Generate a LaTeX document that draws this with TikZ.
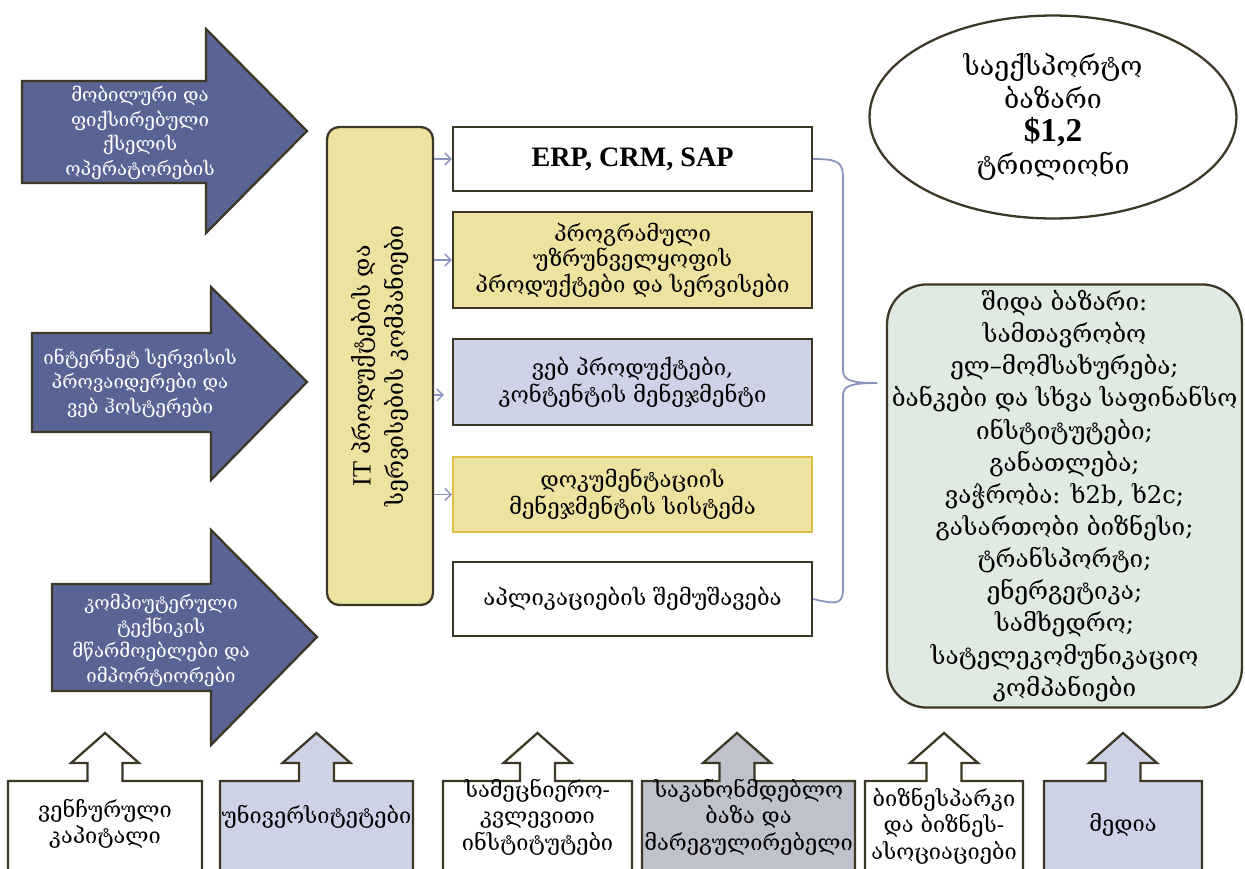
\documentclass[tikz,border=0pt]{standalone}
\usepackage{fontspec}
\setmainfont{DejaVu Serif}
\newfontfamily\latinserif{Liberation Serif}
\usetikzlibrary{arrows.meta,positioning,calc,shapes.geometric}

\definecolor{supplierblue}{HTML}{5A6494}
\definecolor{edgebrown}{HTML}{3D3826}
\definecolor{ityellow}{HTML}{EDE3A1}
\definecolor{docgold}{HTML}{D9C043}
\definecolor{weblilac}{HTML}{CED2E6}
\definecolor{lawgray}{HTML}{BFC1CC}
\definecolor{marketgreen}{HTML}{DFEAE2}
\definecolor{linkblue}{HTML}{8A92BE}

\begin{document}
\begin{tikzpicture}[x=0.02cm, y=-0.02cm,
  supplier/.style={fill=supplierblue, draw=edgebrown, line width=1.3pt},
  suppliertext/.style={text=white, align=center, font=\fontsize{10.6}{13.9}\selectfont},
  prodbox/.style={draw=edgebrown, line width=1.3pt, minimum width=7.18cm, align=center,
    inner sep=0pt, font=\fontsize{12.6}{15.5}\selectfont},
  source/.style={draw=edgebrown, line width=1.3pt},
  sourcetext/.style={align=center, font=\fontsize{12.4}{15}\selectfont},
  link/.style={-{Straight Barb[length=3.5pt,width=7pt]}, linkblue, line width=0.8pt},
  bracket/.style={linkblue, line width=1pt}
]
  \useasboundingbox (0,0) rectangle (1245,869);
  \clip (0,0) rectangle (1245,869);

  % suppliers on the left
  \draw[supplier] (22,81) -- (206,81) -- (206,29) -- (307,131) -- (206,233) -- (206,183) -- (22,183) -- cycle;
  \draw[supplier] (32,333) -- (211,333) -- (211,287) -- (307,382) -- (211,480) -- (211,432) -- (32,432) -- cycle;
  \draw[supplier] (52,584) -- (211,584) -- (211,530) -- (317,637) -- (211,745) -- (211,691) -- (52,691) -- cycle;
  \node[suppliertext] (mobile) at (140,133) {მობილური და\\ფიქსირებული\\ქსელის\\ოპერატორების};
  \node[suppliertext] (isp) at (140,383) {ინტერნეტ სერვისის\\პროვაიდერები და\\ვებ ჰოსტერები};
  \node[suppliertext] (hardware) at (161,640) {კომპიუტერული\\ტექნიკის\\მწარმოებლები და\\იმპორტიორები};

  % IT companies column
  \node[draw=edgebrown, fill=ityellow, line width=1.3pt, rounded corners=0.24cm,
    minimum width=2.12cm, minimum height=9.56cm] (itcol) at (380,366) {};
  \node[rotate=90, align=center, font=\fontsize{13.1}{18.7}\selectfont] (itlabel) at (itcol.center)
    {{\latinserif\fontsize{15}{18.7}\selectfont IT} პროდუქტების და\\სერვისების კომპანიები};

  % products
  \node[prodbox, fill=white, minimum height=1.28cm] (erp) at (632.5,159)
    {\latinserif\bfseries\fontsize{16}{19}\selectfont ERP, CRM, SAP};
  \node[prodbox, fill=ityellow, minimum height=1.92cm, font=\fontsize{12.6}{14.5}\selectfont] (soft) at (632.5,260)
    {პროგრამული\\უზრუნველყოფის\\პროდუქტები და სერვისები};
  \node[prodbox, fill=weblilac, minimum height=1.72cm] (web) at (632.5,382)
    {ვებ პროდუქტები,\\კონტენტის მენეჯმენტი};
  \node[prodbox, fill=ityellow, draw=docgold, minimum height=1.5cm] (docs) at (632.5,494.5)
    {დოკუმენტაციის\\მენეჯმენტის სისტემა};
  \node[prodbox, fill=white, minimum height=1.48cm] (app) at (632.5,599)
    {აპლიკაციების შემუშავება};

  \draw[link] (itcol.east |- erp.west) -- (erp.west);
  \draw[link] (itcol.east |- soft.west) -- (soft.west);
  \draw[link] ($(itcol.east |- web.west)+(0,13)$) -- ($(web.west)+(-8,13)$);
  \draw[link] (itcol.east |- docs.west) -- (docs.west);

  % markets
  \node[ellipse, draw=edgebrown, line width=1.3pt, fill=white, minimum width=7.34cm, minimum height=4.06cm,
    inner sep=0pt, align=center, font=\fontsize{15.2}{18.7}\selectfont] (export) at (1053,117)
    {საექსპორტო\\ბაზარი\\{\latinserif\bfseries\fontsize{19}{19}\selectfont \$1,2}\\ტრილიონი};
  \node[draw=edgebrown, fill=marketgreen, line width=1.3pt, rounded corners=0.8cm,
    minimum width=7.1cm, minimum height=8.44cm, inner xsep=1pt, align=center,
    font=\fontsize{13.8}{18.3}\selectfont] (inner) at (1064.5,496)
    {შიდა ბაზარი:\\სამთავრობო\\ელ–მომსახურება;\\ბანკები და სხვა საფინანსო\\ინსტიტუტები;\\განათლება;\\ვაჭრობა: ხ2b, ხ2c;\\გასართობი ბიზნესი;\\ტრანსპორტი;\\ენერგეტიკა;\\სამხედრო;\\სატელეკომუნიკაციო\\კომპანიები};

  \coordinate (bracetip) at (877,383);
  \draw[bracket] (erp.east) .. controls (838,159) and (843,162) .. (843,178) -- (843,370)
    .. controls (843,380) and (850,383) .. (bracetip);
  \draw[bracket] (bracetip) .. controls (850,383) and (843,386) .. (843,396) -- (843,588)
    .. controls (843,604) and (838,605) .. (app.east);

  % supporting environment at the bottom
  \draw[source, fill=white] (105,733) -- (139,763) -- (122.5,763) -- (122.5,781) -- (202,781) -- (202,880) -- (8,880) -- (8,781) -- (87.5,781) -- (87.5,763) -- (71,763) -- cycle;
  \draw[source, fill=weblilac] (316.5,733) -- (350.5,763) -- (334,763) -- (334,781) -- (413,781) -- (413,880) -- (220,880) -- (220,781) -- (299,781) -- (299,763) -- (282.5,763) -- cycle;
  \draw[source, fill=white] (537.5,733) -- (571.5,763) -- (555,763) -- (555,781) -- (632,781) -- (632,880) -- (443,880) -- (443,781) -- (520,781) -- (520,763) -- (503.5,763) -- cycle;
  \draw[source, fill=lawgray] (737,733) -- (771,763) -- (754.5,763) -- (754.5,781) -- (855,781) -- (855,880) -- (642,880) -- (642,781) -- (719.5,781) -- (719.5,763) -- (703,763) -- cycle;
  \draw[source, fill=white] (944,733) -- (978,763) -- (961.5,763) -- (961.5,781) -- (1023,781) -- (1023,880) -- (865,880) -- (865,781) -- (926.5,781) -- (926.5,763) -- (910,763) -- cycle;
  \draw[source, fill=weblilac] (1123,733) -- (1157,763) -- (1140.5,763) -- (1140.5,781) -- (1202,781) -- (1202,880) -- (1044,880) -- (1044,781) -- (1105.5,781) -- (1105.5,763) -- (1089,763) -- cycle;

  \node[sourcetext] (venture) at (105,823.5) {ვენჩურული\\კაპიტალი};
  \node[sourcetext] (univ) at (316.5,817) {უნივერსიტეტები};
  \node[sourcetext] (research) at (537.5,817) {სამეცნიერო-\\კვლევითი\\ინსტიტუტები};
  \node[sourcetext] (law) at (748.5,817) {საკანონმდებლო\\ბაზა და\\მარეგულირებელი};
  \node[sourcetext] (parks) at (944,826) {ბიზნესპარკი\\და ბიზნეს-\\ასოციაციები};
  \node[sourcetext] (media) at (1123,825) {მედია};
\end{tikzpicture}
\end{document}
